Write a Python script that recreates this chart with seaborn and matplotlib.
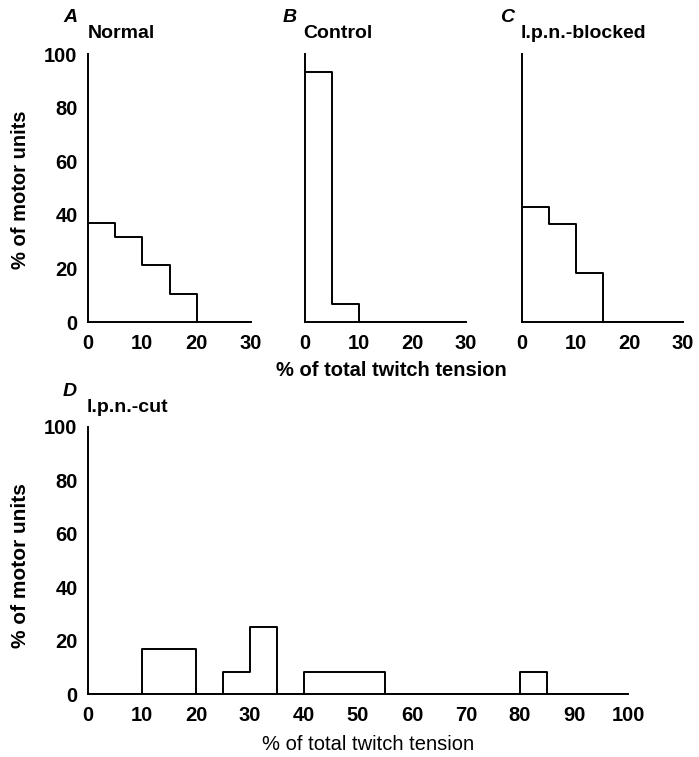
import numpy as np
import pandas as pd
import matplotlib
matplotlib.use("Agg")
import matplotlib.pyplot as plt
import seaborn as sns

sns.set_style("white")
plt.rcParams['font.family'] = ['Liberation Sans', 'DejaVu Sans']
plt.rcParams['text.color'] = 'black'
plt.rcParams['xtick.color'] = 'black'
plt.rcParams['ytick.color'] = 'black'

# ---- data (% of motor units per 5%-wide tension bin; bins given by left edge) ----
small_bin_starts = [0, 5, 10, 15, 20, 25]
normal_pct = [36.8, 31.6, 21.1, 10.5, 0, 0]
control_pct = [93.3, 6.7, 0, 0, 0, 0]
blocked_pct = [42.9, 36.5, 18.2, 0, 0, 0]

large_bin_starts = list(range(0, 100, 5))
cut_pct = [0, 0, 16.7, 16.7, 0, 8.3, 25.0, 0, 8.3, 8.3, 8.3, 0, 0, 0, 0, 0, 8.3, 0, 0, 0]

small_ticks = [0, 10, 20, 30]
large_ticks = list(range(0, 101, 10))
y_ticks = [0, 20, 40, 60, 80, 100]

panel_letters = ["A", "B", "C", "D"]
panel_titles = ["Normal", "Control", "l.p.n.-blocked", "l.p.n.-cut"]
ylab = "% of motor units"
xlab = "% of total twitch tension"

W, H = 699, 757
fig = plt.figure(figsize=(W / 100, H / 100), dpi=100)


def ax_px(left, right, top, bottom):
    return fig.add_axes([left / W, 1 - bottom / H, (right - left) / W, (bottom - top) / H])


def draw(ax, starts, pct, width, xmax, xticks, show_ylabels, fs):
    df = pd.DataFrame({"x": np.asarray(starts) + width / 2, "w": pct})
    sns.histplot(data=df, x="x", weights="w", binwidth=width, binrange=(0, xmax),
                 element="step", fill=False, color="black", linewidth=1.4, ax=ax)
    ax.set_xlim(0, xmax)
    ax.set_ylim(0, 100)
    ax.set_xticks(xticks)
    ax.set_yticks(y_ticks)
    ax.set_xlabel("")
    ax.set_ylabel("")
    for s in ["top", "right"]:
        ax.spines[s].set_visible(False)
    for s in ["left", "bottom"]:
        ax.spines[s].set_linewidth(1.4)
        ax.spines[s].set_color("black")
    ax.tick_params(direction="out", length=4.5, width=1.3, colors="black",
                   labelsize=fs)
    ax.tick_params(axis="x", pad=4)
    ax.tick_params(axis="y", pad=3)
    for lab in ax.get_xticklabels() + ax.get_yticklabels():
        lab.set_fontweight("bold")
    if not show_ylabels:
        ax.set_yticklabels([])
    ax.patch.set_alpha(0)


axA = ax_px(88, 251, 54, 322)
axB = ax_px(305, 466, 54, 322)
axC = ax_px(522, 683, 54, 322)
axD = ax_px(88, 628, 427, 694)

draw(axA, small_bin_starts, normal_pct, 5, 30, small_ticks, True, 14.5)
draw(axB, small_bin_starts, control_pct, 5, 30, small_ticks, False, 14.5)
draw(axC, small_bin_starts, blocked_pct, 5, 30, small_ticks, False, 14.5)
draw(axD, large_bin_starts, cut_pct, 5, 100, large_ticks, True, 14.5)

# panel letters and titles
letter_pos = [(63, 18), (283, 18), (500, 18), (63, 392)]
title_pos = [(88, 33), (303, 33), (521, 33), (87, 408)]
for L, T, (lx, ly), (tx, ty) in zip(panel_letters, panel_titles, letter_pos, title_pos):
    fig.text(lx / W, 1 - ly / H, L, ha="left", va="center", fontsize=14,
             fontweight="bold", fontstyle="italic")
    fig.text(tx / W, 1 - ty / H, T, ha="left", va="center", fontsize=14,
             fontweight="bold")

fig.text(21 / W, 1 - 190 / H, ylab, rotation=90, ha="center", va="center",
         fontsize=14.5, fontweight="bold")
fig.text(21 / W, 1 - 566 / H, ylab, rotation=90, ha="center", va="center",
         fontsize=15, fontweight="bold")
fig.text(391 / W, 1 - 370 / H, xlab, ha="center", va="center", fontsize=14.5,
         fontweight="bold")
fig.text(368 / W, 1 - 745 / H, xlab, ha="center", va="center", fontsize=14.5)

fig.savefig("out.png", dpi=100, facecolor="white")
